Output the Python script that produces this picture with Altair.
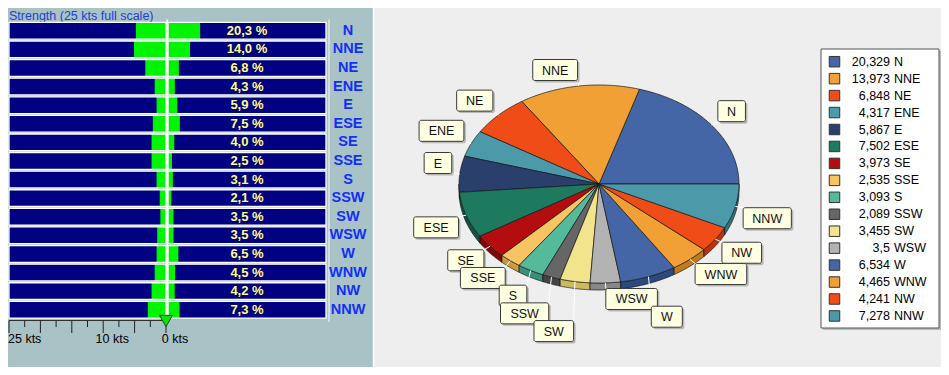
import altair as alt
import pandas as pd

# ---------------- data ----------------
title_text = "Strength (25 kts full scale)"
dirs = ["N", "NNE", "NE", "ENE", "E", "ESE", "SE", "SSE",
        "S", "SSW", "SW", "WSW", "W", "WNW", "NW", "NNW"]
freq = [20.329, 13.973, 6.848, 4.317, 5.867, 7.502, 3.973, 2.535,
        3.093, 2.089, 3.455, 3.5, 6.534, 4.465, 4.241, 7.278]
strength_kts = [4.8, 5.1, 3.3, 1.8, 1.5, 2.1, 2.3, 2.3,
                1.5, 1.0, 0.9, 1.4, 1.5, 1.8, 2.3, 2.9]
major_ticks = [0, 5, 10, 15, 20, 25]
minor_ticks = [2.5, 7.5, 12.5, 17.5, 22.5]
tick_labels_mid = [10, 0]
tick_labels_edge = [25]

colors = ["#4466a6", "#f0a035", "#f04c17", "#4b99a9", "#2b3f6d", "#1d7a5f",
          "#b30d10", "#f6c462", "#55b99c", "#666666", "#f1e48c", "#b3b3b3",
          "#4466a6", "#f0a035", "#f04c17", "#4b99a9"]
side_colors = ["#2d4a80", "#c27a1c", "#b8330c", "#2f7585", "#1b2a4d", "#115540",
               "#800608", "#c99a3e", "#37907a", "#444444", "#c9bb5e", "#888888",
               "#2d4a80", "#c27a1c", "#b8330c", "#2f7585"]

df = pd.DataFrame({"dir": dirs, "pct": freq, "kts": strength_kts, "idx": list(range(len(dirs)))})
one = pd.DataFrame({"d": [0]})

# ---------------- layout constants ----------------
W, H = 933, 359
CX, CY, RX, RY, DEPTH = 591, 176, 140, 99, 7
FONT = "Liberation Sans"

KTS = alt.Scale(domain=[0, 25], range=[158, 1])
PCT = alt.Scale(domain=[0, 100], range=[160, 318])
ROWY = alt.Scale(domain=dirs, range=[13.5, 311], paddingInner=0.1, paddingOuter=0.05)
yrow = alt.Y("dir:N", scale=ROWY, axis=None)
fill_top = alt.Fill("dir:N", scale=alt.Scale(domain=dirs, range=colors), legend=None)
fill_side = alt.Fill("dir:N", scale=alt.Scale(domain=dirs, range=side_colors), legend=None)

base = alt.Chart(df)

# ---------------- left panel ----------------
title = alt.Chart(one).mark_text(align="left", baseline="alphabetic", font=FONT,
                                 fontSize=12.5, color="#2040d8").encode(
    x=alt.value(1), y=alt.value(11.5), text=alt.value(title_text))

row_calc = base.transform_calculate(full="25", zero="0", hundred="100", half="50")

left_bg = row_calc.mark_rect(fill="#000080").encode(
    x=alt.X("full:Q", scale=KTS, axis=None), x2="zero:Q", y=yrow)
right_bg = row_calc.mark_rect(fill="#000080").encode(
    x=alt.X("zero:Q", scale=PCT, axis=None), x2="hundred:Q", y=yrow)
green_left = row_calc.mark_rect(fill="#00f400").encode(
    x=alt.X("kts:Q", scale=KTS, axis=None), x2="zero:Q", y=yrow)
green_right = row_calc.mark_rect(fill="#00f400").encode(
    x=alt.X("zero:Q", scale=PCT, axis=None), x2="pct:Q", y=yrow)
left_frame = row_calc.mark_rect(fill=None, stroke="white", strokeWidth=1.3).encode(
    x=alt.X("full:Q", scale=KTS, axis=None), x2="zero:Q", y=yrow)
right_frame = row_calc.mark_rect(fill=None, stroke="white", strokeWidth=1.3).encode(
    x=alt.X("zero:Q", scale=PCT, axis=None), x2="hundred:Q", y=yrow)
center_line = alt.Chart(one).mark_rule(color="white", strokeWidth=2).encode(
    x=alt.value(159.2), y=alt.value(11.5), y2=alt.value(312))
side_line = alt.Chart(one).mark_rule(color="#dfe8ea", strokeWidth=1.5).encode(
    x=alt.value(321), y=alt.value(11.5), y2=alt.value(314))

pct_text = row_calc.transform_calculate(
    plab="replace(format(datum.pct, '.1f'), '.', ',') + ' %'"
).mark_text(align="center", baseline="middle", font=FONT, fontWeight="bold",
            fontSize=13, color="#ffff80").encode(
    x=alt.X("half:Q", scale=PCT, axis=None), y=yrow, text="plab:N")

dir_text = base.mark_text(align="center", baseline="middle", font=FONT, fontWeight="bold",
                          fontSize=14.5, color="#1230f5").encode(
    x=alt.value(340), y=yrow, text="dir:N")

axis_line = alt.Chart(pd.DataFrame({"a": [25], "b": [0]})).mark_rule(
    color="#303030", strokeWidth=1).encode(
    x=alt.X("a:Q", scale=KTS, axis=None), x2="b:Q", y=alt.value(312.5))
major = alt.Chart(pd.DataFrame({"t": major_ticks})).mark_rule(color="#202020").encode(
    x=alt.X("t:Q", scale=KTS, axis=None), y=alt.value(312.5), y2=alt.value(325))
minor = alt.Chart(pd.DataFrame({"t": minor_ticks})).mark_rule(color="#202020").encode(
    x=alt.X("t:Q", scale=KTS, axis=None), y=alt.value(312.5), y2=alt.value(319))
lab_mid = alt.Chart(pd.DataFrame({"t": tick_labels_mid})).transform_calculate(
    lab="datum.t + ' kts'").mark_text(align="center", dx=9, baseline="alphabetic",
                                      font=FONT, fontSize=12.5, color="black").encode(
    x=alt.X("t:Q", scale=KTS, axis=None), y=alt.value(335), text="lab:N")
lab_edge = alt.Chart(pd.DataFrame({"t": tick_labels_edge})).transform_calculate(
    lab="datum.t + ' kts'").mark_text(align="left", dx=-1, baseline="alphabetic",
                                      font=FONT, fontSize=12.5, color="black").encode(
    x=alt.X("t:Q", scale=KTS, axis=None), y=alt.value(335), text="lab:N")
marker = alt.Chart(pd.DataFrame({"t": [0]})).mark_point(
    shape="triangle-down", size=169, filled=True, fill="#10e010", stroke="#1a4a1a",
    strokeWidth=1, opacity=1).encode(
    x=alt.X("t:Q", scale=KTS, axis=None), y=alt.value(313))

# ---------------- right panel ----------------
right_panel = alt.Chart(one).mark_rect(fill="#eeeeee").encode(
    x=alt.value(366), x2=alt.value(W), y=alt.value(0), y2=alt.value(H))
panel_edge = alt.Chart(one).mark_rule(color="white", strokeWidth=1.5).encode(
    x=alt.value(365.5), y=alt.value(0), y2=alt.value(H))


def pie_base():
    return (base.transform_joinaggregate(total="sum(pct)")
            .transform_window(cum="sum(pct)", sort=[alt.SortField("idx")], frame=[None, 0])
            .transform_calculate(t0="2*PI*(datum.cum-datum.pct)/datum.total",
                                 t1="2*PI*datum.cum/datum.total"))


N_STEP = 60
top = (pie_base()
       .transform_calculate(k=f"sequence(0, {N_STEP + 2})")
       .transform_flatten(["k"])
       .transform_calculate(t=f"datum.t0 + (datum.t1-datum.t0)*(datum.k-1)/{N_STEP}")
       .transform_calculate(px=f"datum.k==0 ? {CX} : {CX} + {RX}*cos(datum.t)",
                            py=f"datum.k==0 ? {CY} : {CY} - {RY}*sin(datum.t)")
       .mark_line(interpolate="linear-closed", stroke="#151515", strokeWidth=0.7,
                  strokeJoin="round", opacity=1, fillOpacity=1)
       .encode(x=alt.X("px:Q", scale=None, axis=None), y=alt.Y("py:Q", scale=None, axis=None),
               fill=fill_top, detail="dir:N", order="k:Q"))

M = 40
side = (pie_base()
        .transform_calculate(a="max(datum.t0, PI)", b="min(datum.t1, 2*PI)")
        .transform_filter("datum.a < datum.b")
        .transform_calculate(k=f"sequence(0, {2 * M + 2})")
        .transform_flatten(["k"])
        .transform_calculate(
            t=f"datum.k <= {M} ? datum.a + (datum.b-datum.a)*datum.k/{M} : "
              f"datum.b - (datum.b-datum.a)*(datum.k-{M + 1})/{M}")
        .transform_calculate(px=f"{CX} + {RX}*cos(datum.t)",
                             py=f"{CY} - {RY}*sin(datum.t) + (datum.k > {M} ? {DEPTH} : 0)")
        .mark_line(interpolate="linear-closed", stroke="#151515", strokeWidth=0.7,
                   strokeJoin="round", opacity=1, fillOpacity=1)
        .encode(x=alt.X("px:Q", scale=None, axis=None), y=alt.Y("py:Q", scale=None, axis=None),
                fill=fill_side, detail="dir:N", order="k:Q"))

BOXH = 21
STACK = 17.7
lab = (pie_base()
       .transform_calculate(mid="(datum.t0+datum.t1)/2")
       .transform_calculate(c="cos(datum.mid)", s="sin(datum.mid)")
       .transform_calculate(ex=f"{CX}+{RX}*datum.c", ey=f"{CY}-{RY}*datum.s",
                            ax=f"{CX}+{RX + 8}*datum.c", ay=f"{CY}-{RY + 5.6}*datum.s",
                            nW="length(split(datum.dir,'W'))-1")
       .transform_calculate(
           w="12*datum.nW + 8.6*(length(datum.dir)-datum.nW) + 19",
           grp="datum.s < 0 && datum.c < 0 ? 'L' : (datum.s < 0 && datum.c < 0.5 ? 'R' : datum.dir)",
           top0=f"datum.s > 0 ? datum.ay - {BOXH} : datum.ay")
       .transform_window(rk="row_number()", groupby=["grp"], sort=[alt.SortField("mid")])
       .transform_calculate(adj=f"datum.top0 - {STACK}*datum.rk")
       .transform_window(cm="max(adj)", groupby=["grp"], sort=[alt.SortField("mid")],
                         frame=[None, 0])
       .transform_calculate(top=f"{STACK}*datum.rk + datum.cm",
                            x0="datum.c >= 0 ? datum.ax : datum.ax - datum.w")
       .transform_calculate(x1="datum.x0 + datum.w", bot=f"datum.top + {BOXH}",
                            xs0="datum.x0 + 2", xs1="datum.x0 + datum.w + 2",
                            ys0="datum.top + 2", ys1=f"datum.top + {BOXH} + 2",
                            tx="datum.x0 + datum.w/2", ty=f"datum.top + {BOXH / 2} + 0.5",
                            ly=f"datum.s > 0 ? datum.top + {BOXH} : datum.top"))

leaders = lab.mark_rule(color="white", strokeWidth=1).encode(
    x=alt.X("ex:Q", scale=None, axis=None), y=alt.Y("ey:Q", scale=None, axis=None),
    x2="ax:Q", y2="ly:Q")
box_shadow = lab.mark_rect(fill="#8a8a8a", opacity=0.55, cornerRadius=2).encode(
    x=alt.X("xs0:Q", scale=None, axis=None), x2="xs1:Q",
    y=alt.Y("ys0:Q", scale=None, axis=None), y2="ys1:Q")
boxes = lab.mark_rect(fill="#ffffe1", stroke="#3a3a3a", strokeWidth=1, cornerRadius=2).encode(
    x=alt.X("x0:Q", scale=None, axis=None), x2="x1:Q",
    y=alt.Y("top:Q", scale=None, axis=None), y2="bot:Q")
box_text = lab.mark_text(align="center", baseline="middle", font=FONT, fontSize=12.5,
                         color="#111111").encode(
    x=alt.X("tx:Q", scale=None, axis=None), y=alt.Y("ty:Q", scale=None, axis=None),
    text="dir:N")

# ---------------- legend ----------------
LEGY = alt.Scale(type="point", domain=dirs, range=[53.7, 53.7 + 15 * 16.95], padding=0)
leg_shadow = alt.Chart(one).mark_rect(fill="#9a9a9a", opacity=0.6).encode(
    x=alt.value(815), x2=alt.value(933), y=alt.value(43), y2=alt.value(322))
leg_box = alt.Chart(one).mark_rect(fill="white", stroke="#555555", strokeWidth=1).encode(
    x=alt.value(813), x2=alt.value(931), y=alt.value(41), y2=alt.value(320))
leg_sq = base.mark_square(size=110, stroke="#333333", strokeWidth=1, opacity=1).encode(
    x=alt.value(826.5), y=alt.Y("dir:N", scale=LEGY, axis=None), fill=fill_top)
leg_val = base.transform_calculate(
    vlab="replace(format(datum.pct, '.5~r'), '.', ',')"
).mark_text(align="right", baseline="middle", font=FONT, fontSize=12.5, color="black").encode(
    x=alt.value(882), y=alt.Y("dir:N", scale=LEGY, axis=None), text="vlab:N")
leg_name = base.mark_text(align="left", baseline="middle", font=FONT, fontSize=12.5,
                          color="black").encode(
    x=alt.value(886), y=alt.Y("dir:N", scale=LEGY, axis=None), text="dir:N")

chart = alt.layer(
    title, left_bg, right_bg, green_left, green_right, left_frame, right_frame,
    center_line, side_line, pct_text, dir_text, axis_line, major, minor,
    lab_mid, lab_edge, marker,
    right_panel, panel_edge, side, top, leaders, box_shadow, boxes, box_text,
    leg_shadow, leg_box, leg_sq, leg_val, leg_name,
).resolve_scale(
    x="independent", y="independent", fill="independent"
).properties(
    width=W, height=H, padding=0, autosize=alt.AutoSizeParams(type="none"),
    background="#a8c2c5",
).configure_view(stroke=None)

chart.save("out.html", embed_options={"renderer": "svg", "actions": False})
